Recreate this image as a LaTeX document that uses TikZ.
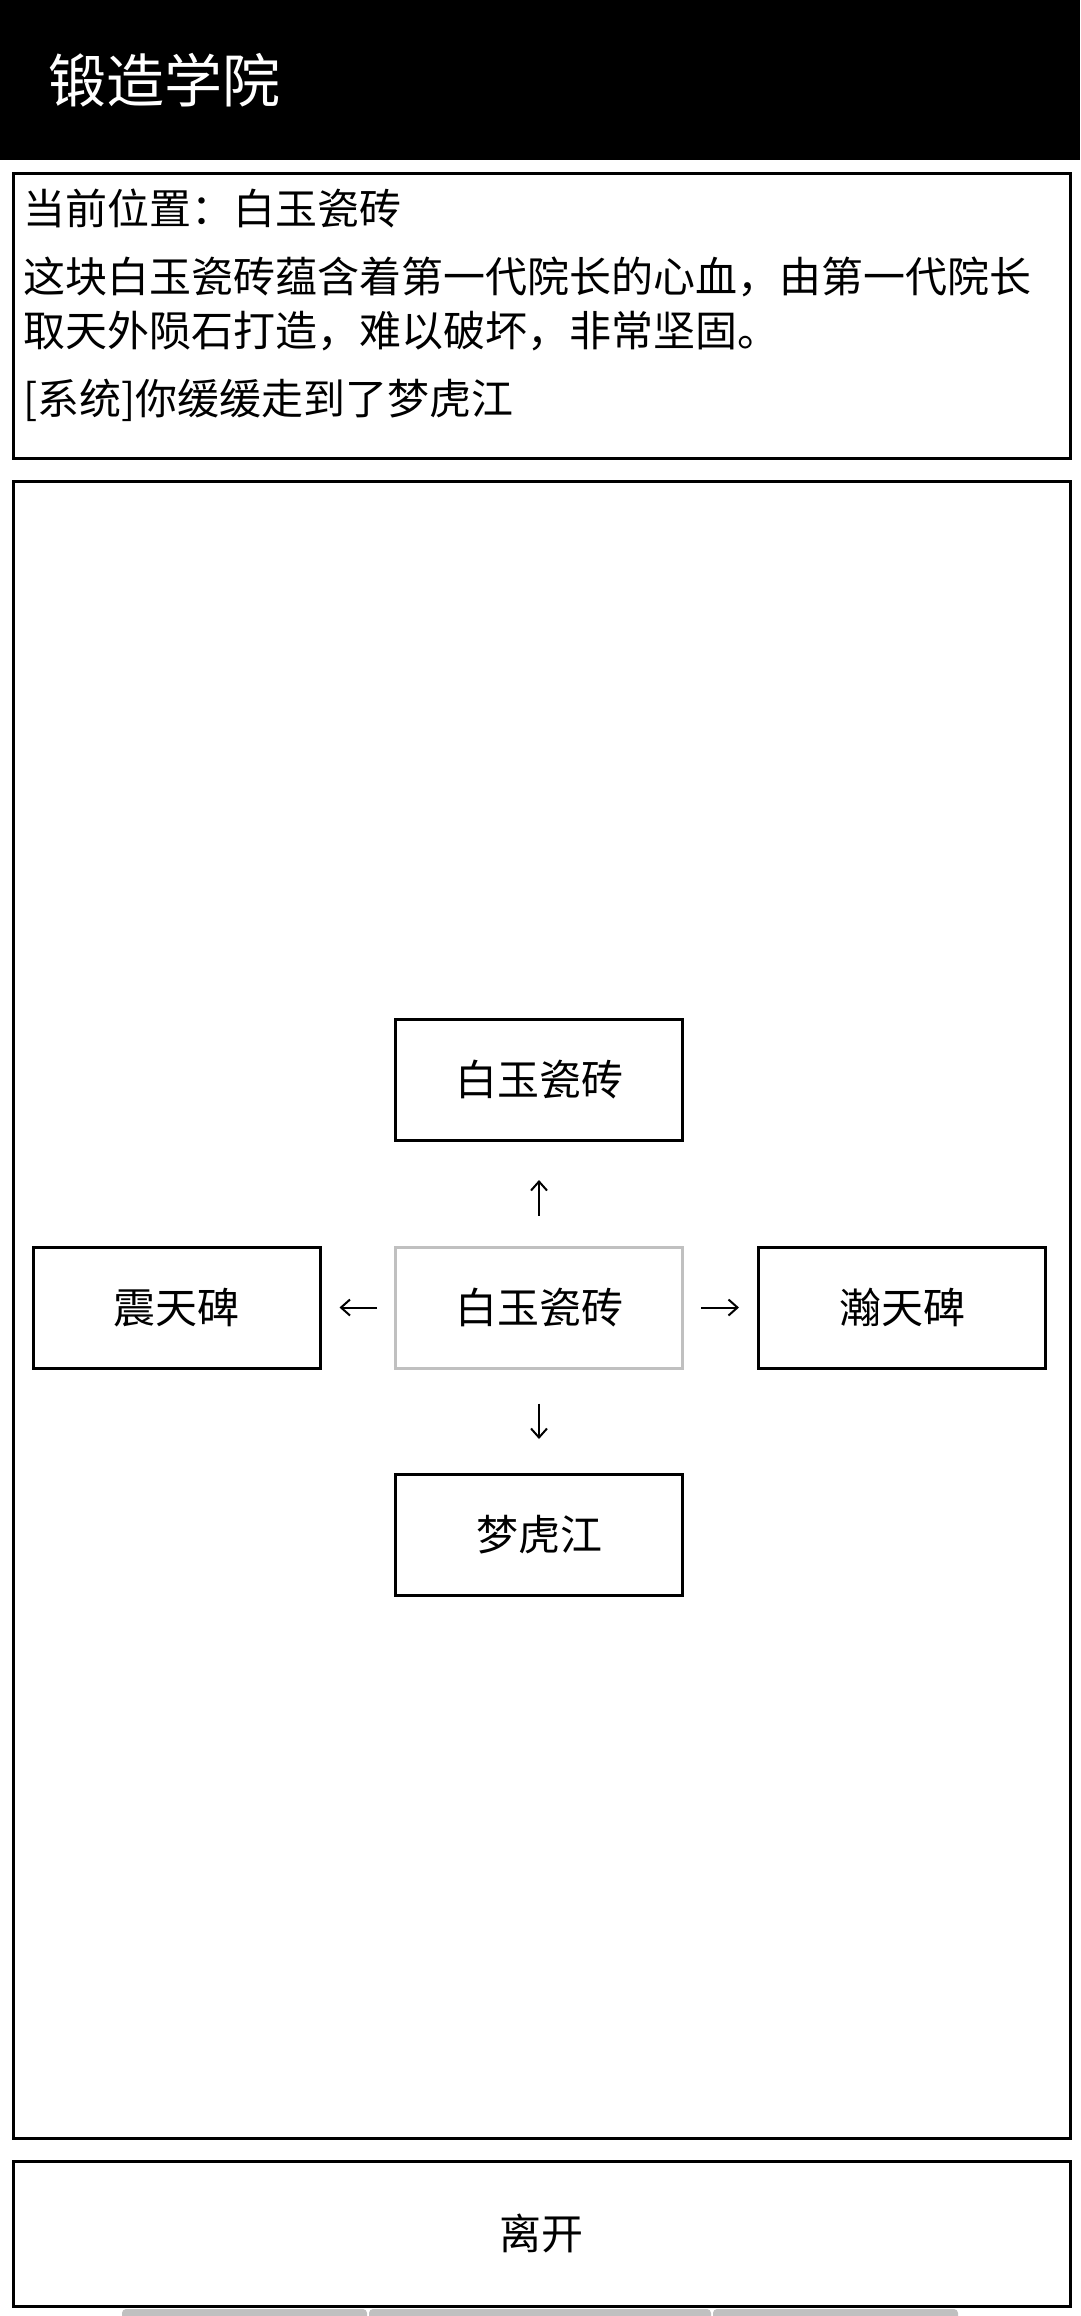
\documentclass[tikz,border=0pt]{standalone}
\usepackage{fontspec}
\newfontfamily\cjk{Noto Sans CJK SC}
\usetikzlibrary{arrows.meta}
\definecolor{lightgrey}{HTML}{C0C0C0}
\begin{document}
\begin{tikzpicture}[x=1pt,y=-1pt,
  body/.style={font=\cjk\fontsize{42}{50}\selectfont},
  room/.style={draw=black, line width=3pt, minimum width=287pt, minimum height=121pt, inner sep=0pt, body},
  here/.style={room, draw=lightgrey},
  link/.style={-{Straight Barb[length=9pt,width=16pt]}, line width=2pt},
  panel/.style={draw=black, line width=3pt, anchor=north west, inner sep=0pt, minimum width=1057pt},
  line/.style={anchor=west, inner sep=0pt, body}]
\useasboundingbox (0,0) rectangle (1080,2316);
\clip (0,0) rectangle (1080,2316);
\fill[white] (0,0) rectangle (1080,2316);
% header
\node[fill=black, minimum width=1080pt, minimum height=160pt, anchor=north west, inner sep=0pt] (header) at (0,0) {};
\node[anchor=west, text=white, font=\cjk\fontsize{58}{64}\selectfont, inner sep=0pt] (title) at (48,80) {锻造学院};
% info panel
\node[panel, minimum height=284.5pt] (info) at (11.5,172) {};
\node[line] (l1) at (23,208) {当前位置：白玉瓷砖};
\node[line] (l2) at (23,277) {这块白玉瓷砖蕴含着第一代院长的心血，由第一代院长};
\node[line] (l3) at (23,331) {取天外陨石打造，难以破坏，非常坚固。};
\node[line] (l4) at (23,400) {[系统]你缓缓走到了梦虎江};
% map panel
\node[panel, minimum height=1657pt] (map) at (11.5,479.5) {};
\node[room] (north) at (539,1080) {白玉瓷砖};
\node[here] (here) at (539,1307.5) {白玉瓷砖};
\node[room] (west) at (176.5,1307.5) {震天碑};
\node[room] (east) at (902,1307.5) {瀚天碑};
\node[room] (south) at (539,1535) {梦虎江};
\draw[link, shorten <=30pt, shorten >=38pt] (here.north) -- (north.south);
\draw[link, shorten <=34pt, shorten >=34pt] (here.south) -- (south.north);
\draw[link, shorten <=17pt, shorten >=18pt] (here.west) -- (west.east);
\draw[link, shorten <=17pt, shorten >=18pt] (here.east) -- (east.west);
% leave button
\node[panel, minimum height=145pt, body] (leave) at (11.5,2159.5) {};
\node[body, inner sep=0pt] (leavetext) at (leave.center) {离开};
% partially visible bars
\fill[lightgrey, rounded corners=4pt] (122,2309) rectangle (367,2330);
\fill[lightgrey, rounded corners=4pt] (369,2309) rectangle (711,2330);
\fill[lightgrey, rounded corners=4pt] (713,2309) rectangle (958,2330);
\end{tikzpicture}
\end{document}
